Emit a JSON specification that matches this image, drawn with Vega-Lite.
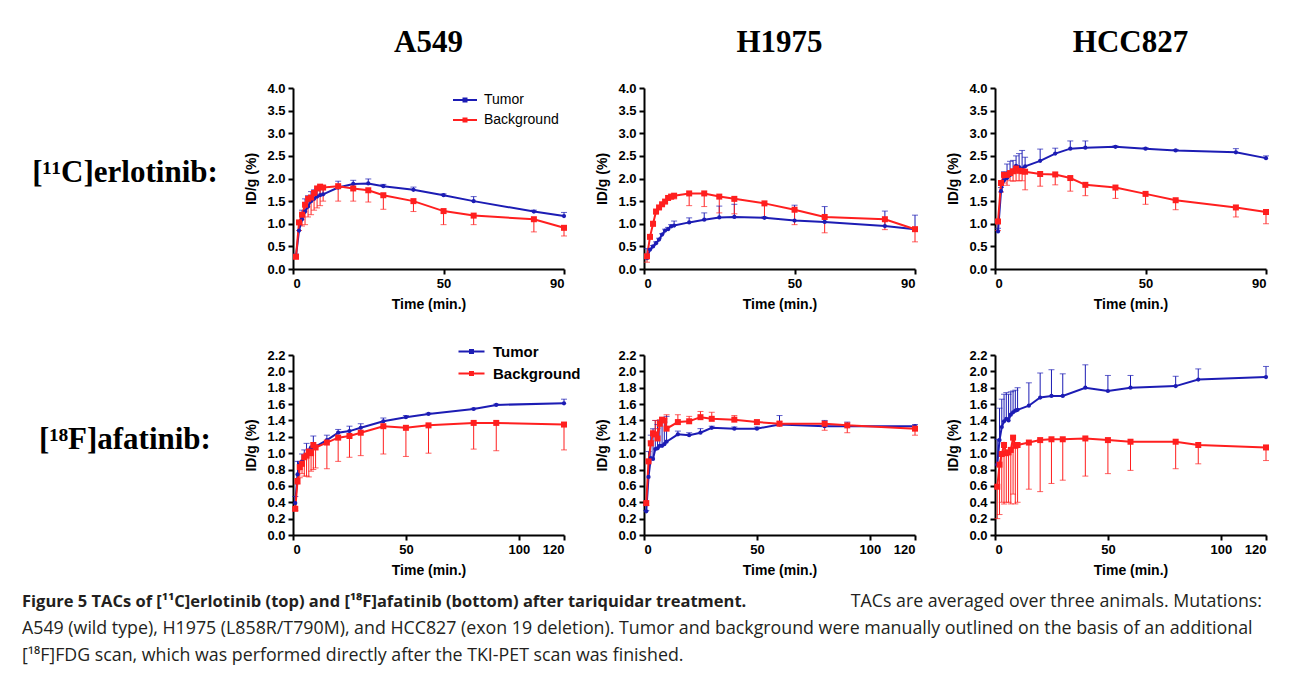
{
"$schema": "https://vega.github.io/schema/vega-lite/v6.json",
"padding": {"left": 22, "top": 27, "right": 5, "bottom": 5},
"background": "white",
"config": {
 "view": {"stroke": null},
 "font": "Liberation Sans",
 "axis": {"domainColor": "black", "domainWidth": 2, "tickColor": "black", "tickWidth": 2, "tickSize": 5, "labelFont": "Liberation Sans", "labelFontWeight": "bold", "labelFontSize": 13, "labelColor": "black", "labelPadding": 3, "labelOverlap": false, "titleFont": "Liberation Sans", "titleFontWeight": "bold", "titleFontSize": 14, "titleColor": "black", "grid": false},
 "axisY": {"titlePadding": 8},
 "axisX": {"titlePadding": 7},
 "title": {"font": "Liberation Serif", "fontSize": 31, "fontWeight": "bold", "color": "black", "offset": 23, "anchor": "middle"}
},
"datasets": {
 "erlA": [
  {"s":"Tumor","t":1,"v":0.29,"e":0.33},{"s":"Tumor","t":2,"v":0.85,"e":1.0},{"s":"Tumor","t":3,"v":1.1,"e":1.3},{"s":"Tumor","t":4,"v":1.27,"e":1.55},{"s":"Tumor","t":5,"v":1.38,"e":1.62},{"s":"Tumor","t":6,"v":1.5,"e":1.71},{"s":"Tumor","t":7,"v":1.55,"e":1.75},{"s":"Tumor","t":8,"v":1.6,"e":1.78},{"s":"Tumor","t":9,"v":1.63,"e":1.84},{"s":"Tumor","t":10,"v":1.65,"e":1.84},{"s":"Tumor","t":15,"v":1.8,"e":1.94},{"s":"Tumor","t":20,"v":1.88,"e":1.96},{"s":"Tumor","t":25,"v":1.89,"e":1.99},{"s":"Tumor","t":30,"v":1.83,"e":1.87},{"s":"Tumor","t":40,"v":1.75,"e":1.81},{"s":"Tumor","t":50,"v":1.63,"e":1.66},{"s":"Tumor","t":60,"v":1.5,"e":1.6},{"s":"Tumor","t":80,"v":1.27,"e":1.3},{"s":"Tumor","t":90,"v":1.17,"e":1.25},
  {"s":"Background","t":1,"v":0.27,"e":0.27},{"s":"Background","t":2,"v":1.03,"e":0.85},{"s":"Background","t":3,"v":1.2,"e":0.95},{"s":"Background","t":4,"v":1.42,"e":0.98},{"s":"Background","t":5,"v":1.55,"e":1.15},{"s":"Background","t":6,"v":1.58,"e":1.2},{"s":"Background","t":7,"v":1.68,"e":1.3},{"s":"Background","t":8,"v":1.78,"e":1.35},{"s":"Background","t":9,"v":1.82,"e":1.4},{"s":"Background","t":10,"v":1.8,"e":1.5},{"s":"Background","t":15,"v":1.83,"e":1.5},{"s":"Background","t":20,"v":1.78,"e":1.5},{"s":"Background","t":25,"v":1.74,"e":1.48},{"s":"Background","t":30,"v":1.63,"e":1.32},{"s":"Background","t":40,"v":1.5,"e":1.27},{"s":"Background","t":50,"v":1.28,"e":0.98},{"s":"Background","t":60,"v":1.18,"e":0.98},{"s":"Background","t":80,"v":1.1,"e":0.82},{"s":"Background","t":90,"v":0.91,"e":0.73}
 ],
 "erlH": [
  {"s":"Tumor","t":1,"v":0.24,"e":0.45},{"s":"Tumor","t":2,"v":0.43,"e":0.45},{"s":"Tumor","t":3,"v":0.5,"e":0.52},{"s":"Tumor","t":4,"v":0.57,"e":0.6},{"s":"Tumor","t":5,"v":0.65,"e":0.68},{"s":"Tumor","t":6,"v":0.76,"e":0.78},{"s":"Tumor","t":7,"v":0.85,"e":0.88},{"s":"Tumor","t":8,"v":0.88,"e":0.92},{"s":"Tumor","t":9,"v":0.94,"e":0.98},{"s":"Tumor","t":10,"v":0.96,"e":1.06},{"s":"Tumor","t":15,"v":1.03,"e":1.13},{"s":"Tumor","t":20,"v":1.09,"e":1.24},{"s":"Tumor","t":25,"v":1.14,"e":1.39},{"s":"Tumor","t":30,"v":1.15,"e":1.43},{"s":"Tumor","t":40,"v":1.13,"e":1.15},{"s":"Tumor","t":50,"v":1.07,"e":1.41},{"s":"Tumor","t":60,"v":1.04,"e":1.38},{"s":"Tumor","t":80,"v":0.95,"e":1.28},{"s":"Tumor","t":90,"v":0.88,"e":1.19},
  {"s":"Background","t":1,"v":0.28,"e":0.15},{"s":"Background","t":2,"v":0.71,"e":0.68},{"s":"Background","t":3,"v":1.0,"e":0.95},{"s":"Background","t":4,"v":1.27,"e":1.22},{"s":"Background","t":5,"v":1.36,"e":1.33},{"s":"Background","t":6,"v":1.43,"e":1.4},{"s":"Background","t":7,"v":1.49,"e":1.46},{"s":"Background","t":8,"v":1.57,"e":1.54},{"s":"Background","t":9,"v":1.6,"e":1.55},{"s":"Background","t":10,"v":1.62,"e":1.55},{"s":"Background","t":15,"v":1.67,"e":1.4},{"s":"Background","t":20,"v":1.67,"e":1.38},{"s":"Background","t":25,"v":1.6,"e":1.24},{"s":"Background","t":30,"v":1.55,"e":1.22},{"s":"Background","t":40,"v":1.45,"e":1.12},{"s":"Background","t":50,"v":1.31,"e":0.98},{"s":"Background","t":60,"v":1.15,"e":0.8},{"s":"Background","t":80,"v":1.1,"e":0.87},{"s":"Background","t":90,"v":0.88,"e":0.6}
 ],
 "erlC": [
  {"s":"Tumor","t":1,"v":0.83,"e":0.9},{"s":"Tumor","t":2,"v":1.72,"e":1.8},{"s":"Tumor","t":3,"v":1.96,"e":2.15},{"s":"Tumor","t":4,"v":2.01,"e":2.32},{"s":"Tumor","t":5,"v":2.08,"e":2.38},{"s":"Tumor","t":6,"v":2.17,"e":2.4},{"s":"Tumor","t":7,"v":2.28,"e":2.5},{"s":"Tumor","t":8,"v":2.25,"e":2.55},{"s":"Tumor","t":9,"v":2.22,"e":2.62},{"s":"Tumor","t":10,"v":2.27,"e":2.47},{"s":"Tumor","t":15,"v":2.39,"e":2.65},{"s":"Tumor","t":20,"v":2.55,"e":2.67},{"s":"Tumor","t":25,"v":2.66,"e":2.83},{"s":"Tumor","t":30,"v":2.68,"e":2.83},{"s":"Tumor","t":40,"v":2.7,"e":2.72},{"s":"Tumor","t":50,"v":2.66,"e":2.68},{"s":"Tumor","t":60,"v":2.62,"e":2.64},{"s":"Tumor","t":80,"v":2.58,"e":2.66},{"s":"Tumor","t":90,"v":2.45,"e":2.5},
  {"s":"Background","t":1,"v":1.05,"e":0.85},{"s":"Background","t":2,"v":1.9,"e":1.7},{"s":"Background","t":3,"v":2.08,"e":1.9},{"s":"Background","t":4,"v":2.08,"e":1.85},{"s":"Background","t":5,"v":2.12,"e":1.95},{"s":"Background","t":6,"v":2.16,"e":1.94},{"s":"Background","t":7,"v":2.22,"e":1.95},{"s":"Background","t":8,"v":2.17,"e":1.95},{"s":"Background","t":9,"v":2.16,"e":1.95},{"s":"Background","t":10,"v":2.15,"e":1.75},{"s":"Background","t":15,"v":2.1,"e":1.83},{"s":"Background","t":20,"v":2.09,"e":1.86},{"s":"Background","t":25,"v":2.01,"e":1.72},{"s":"Background","t":30,"v":1.86,"e":1.62},{"s":"Background","t":40,"v":1.8,"e":1.56},{"s":"Background","t":50,"v":1.66,"e":1.43},{"s":"Background","t":60,"v":1.52,"e":1.31},{"s":"Background","t":80,"v":1.36,"e":1.15},{"s":"Background","t":90,"v":1.26,"e":1.0}
 ],
 "afaA": [
  {"s":"Tumor","t":1,"v":0.39,"e":0.47},{"s":"Tumor","t":2,"v":0.74,"e":0.9},{"s":"Tumor","t":3,"v":0.87,"e":0.9},{"s":"Tumor","t":4,"v":0.9,"e":0.99},{"s":"Tumor","t":5,"v":0.94,"e":1.04},{"s":"Tumor","t":6,"v":0.97,"e":1.12},{"s":"Tumor","t":7,"v":1.02,"e":1.05},{"s":"Tumor","t":8,"v":1.07,"e":1.06},{"s":"Tumor","t":9,"v":1.09,"e":1.21},{"s":"Tumor","t":10,"v":1.08,"e":1.1},{"s":"Tumor","t":15,"v":1.16,"e":1.22},{"s":"Tumor","t":20,"v":1.25,"e":1.29},{"s":"Tumor","t":25,"v":1.27,"e":1.33},{"s":"Tumor","t":30,"v":1.31,"e":1.36},{"s":"Tumor","t":40,"v":1.39,"e":1.43},{"s":"Tumor","t":50,"v":1.44,"e":1.46},{"s":"Tumor","t":60,"v":1.48,"e":1.49},{"s":"Tumor","t":80,"v":1.54,"e":1.55},{"s":"Tumor","t":90,"v":1.59,"e":1.6},{"s":"Tumor","t":120,"v":1.61,"e":1.66},
  {"s":"Background","t":1,"v":0.32,"e":0.3},{"s":"Background","t":2,"v":0.66,"e":0.62},{"s":"Background","t":3,"v":0.83,"e":0.7},{"s":"Background","t":4,"v":0.87,"e":0.75},{"s":"Background","t":5,"v":0.95,"e":0.72},{"s":"Background","t":6,"v":0.97,"e":0.72},{"s":"Background","t":7,"v":1.02,"e":0.71},{"s":"Background","t":8,"v":1.0,"e":0.78},{"s":"Background","t":9,"v":1.1,"e":0.8},{"s":"Background","t":10,"v":1.07,"e":0.82},{"s":"Background","t":15,"v":1.13,"e":0.81},{"s":"Background","t":20,"v":1.19,"e":0.9},{"s":"Background","t":25,"v":1.21,"e":0.95},{"s":"Background","t":30,"v":1.25,"e":0.97},{"s":"Background","t":40,"v":1.33,"e":0.99},{"s":"Background","t":50,"v":1.31,"e":0.96},{"s":"Background","t":60,"v":1.34,"e":1.0},{"s":"Background","t":80,"v":1.37,"e":1.05},{"s":"Background","t":90,"v":1.37,"e":1.03},{"s":"Background","t":120,"v":1.35,"e":1.04}
 ],
 "afaH": [
  {"s":"Tumor","t":1,"v":0.29,"e":0.3},{"s":"Tumor","t":2,"v":0.71,"e":1.02},{"s":"Tumor","t":3,"v":0.94,"e":1.22},{"s":"Tumor","t":4,"v":0.93,"e":1.3},{"s":"Tumor","t":5,"v":1.05,"e":1.4},{"s":"Tumor","t":6,"v":1.06,"e":1.35},{"s":"Tumor","t":7,"v":1.09,"e":1.4},{"s":"Tumor","t":8,"v":1.09,"e":1.38},{"s":"Tumor","t":9,"v":1.11,"e":1.38},{"s":"Tumor","t":10,"v":1.14,"e":1.45},{"s":"Tumor","t":15,"v":1.23,"e":1.27},{"s":"Tumor","t":20,"v":1.22,"e":1.25},{"s":"Tumor","t":25,"v":1.25,"e":1.3},{"s":"Tumor","t":30,"v":1.31,"e":1.33},{"s":"Tumor","t":40,"v":1.3,"e":1.32},{"s":"Tumor","t":50,"v":1.3,"e":1.32},{"s":"Tumor","t":60,"v":1.35,"e":1.46},{"s":"Tumor","t":80,"v":1.33,"e":1.4},{"s":"Tumor","t":90,"v":1.33,"e":1.38},{"s":"Tumor","t":120,"v":1.33,"e":1.35},
  {"s":"Background","t":1,"v":0.39,"e":0.36},{"s":"Background","t":2,"v":0.9,"e":0.92},{"s":"Background","t":3,"v":1.12,"e":1.15},{"s":"Background","t":4,"v":1.24,"e":1.28},{"s":"Background","t":5,"v":1.23,"e":1.4},{"s":"Background","t":6,"v":1.18,"e":1.3},{"s":"Background","t":7,"v":1.36,"e":1.41},{"s":"Background","t":8,"v":1.41,"e":1.43},{"s":"Background","t":9,"v":1.4,"e":1.42},{"s":"Background","t":10,"v":1.3,"e":1.47},{"s":"Background","t":15,"v":1.38,"e":1.47},{"s":"Background","t":20,"v":1.39,"e":1.45},{"s":"Background","t":25,"v":1.44,"e":1.51},{"s":"Background","t":30,"v":1.42,"e":1.5},{"s":"Background","t":40,"v":1.41,"e":1.46},{"s":"Background","t":50,"v":1.38,"e":1.4},{"s":"Background","t":60,"v":1.36,"e":1.39},{"s":"Background","t":80,"v":1.36,"e":1.28},{"s":"Background","t":90,"v":1.34,"e":1.25},{"s":"Background","t":120,"v":1.3,"e":1.22}
 ],
 "afaC": [
  {"s":"Tumor","t":1,"v":0.86,"e":1.17},{"s":"Tumor","t":2,"v":1.16,"e":1.55},{"s":"Tumor","t":3,"v":1.32,"e":1.66},{"s":"Tumor","t":4,"v":1.39,"e":1.72},{"s":"Tumor","t":5,"v":1.42,"e":1.74},{"s":"Tumor","t":6,"v":1.4,"e":1.72},{"s":"Tumor","t":7,"v":1.47,"e":1.75},{"s":"Tumor","t":8,"v":1.5,"e":1.76},{"s":"Tumor","t":9,"v":1.52,"e":1.77},{"s":"Tumor","t":10,"v":1.53,"e":1.8},{"s":"Tumor","t":15,"v":1.58,"e":1.86},{"s":"Tumor","t":20,"v":1.68,"e":1.98},{"s":"Tumor","t":25,"v":1.7,"e":2.02},{"s":"Tumor","t":30,"v":1.7,"e":1.97},{"s":"Tumor","t":40,"v":1.8,"e":2.08},{"s":"Tumor","t":50,"v":1.76,"e":1.95},{"s":"Tumor","t":60,"v":1.8,"e":1.95},{"s":"Tumor","t":80,"v":1.82,"e":1.94},{"s":"Tumor","t":90,"v":1.9,"e":2.03},{"s":"Tumor","t":120,"v":1.93,"e":2.06},
  {"s":"Background","t":1,"v":0.59,"e":0.2},{"s":"Background","t":2,"v":0.86,"e":0.25},{"s":"Background","t":3,"v":0.99,"e":0.4},{"s":"Background","t":4,"v":1.1,"e":0.38},{"s":"Background","t":5,"v":1.0,"e":0.4},{"s":"Background","t":6,"v":1.01,"e":0.4},{"s":"Background","t":7,"v":1.04,"e":0.38},{"s":"Background","t":8,"v":1.19,"e":0.5},{"s":"Background","t":9,"v":1.09,"e":0.38},{"s":"Background","t":10,"v":1.1,"e":0.4},{"s":"Background","t":15,"v":1.13,"e":0.56},{"s":"Background","t":20,"v":1.16,"e":0.53},{"s":"Background","t":25,"v":1.17,"e":0.63},{"s":"Background","t":30,"v":1.17,"e":0.67},{"s":"Background","t":40,"v":1.18,"e":0.72},{"s":"Background","t":50,"v":1.16,"e":0.75},{"s":"Background","t":60,"v":1.14,"e":0.79},{"s":"Background","t":80,"v":1.14,"e":0.81},{"s":"Background","t":90,"v":1.1,"e":0.87},{"s":"Background","t":120,"v":1.07,"e":0.91}
 ],
 "cap": [
  {"ln":"1","txt":"Figure 5 TACs of [¹¹C]erlotinib (top) and [¹⁸F]afatinib (bottom) after tariquidar treatment."},
  {"ln":"1r","txt":"TACs are averaged over three animals. Mutations:"},
  {"ln":"2","txt":"A549 (wild type), H1975 (L858R/T790M), and HCC827 (exon 19 deletion). Tumor and background were manually outlined on the basis of an additional"},
  {"ln":"3","txt":"[¹⁸F]FDG scan, which was performed directly after the TKI-PET scan was finished."}
 ]
},
"resolve": {"scale": {"color": "independent", "shape": "independent", "size": "independent"}, "legend": {"color": "independent", "shape": "independent", "size": "independent"}},
"spacing": 12,
"vconcat": [
 {
  "spacing": 33,
  "resolve": {"scale": {"color": "independent", "shape": "independent", "size": "independent"}, "legend": {"color": "independent", "shape": "independent", "size": "independent"}},
  "vconcat": [
   {
    "bounds": "flush",
    "spacing": 65,
    "resolve": {"scale": {"color": "independent", "shape": "independent", "size": "independent"}, "legend": {"color": "independent", "shape": "independent", "size": "independent"}},
    "hconcat": [
     {"width": 206, "height": 181, "data": {"values": [{"l": "[¹¹C]erlotinib:"}]}, "mark": {"type": "text", "font": "Liberation Serif", "fontSize": 31, "fontWeight": "bold", "color": "black", "baseline": "middle", "dy": -6}, "encoding": {"text": {"field": "l"}}},
     {
      "bounds": "flush",
      "spacing": 80,
      "resolve": {"scale": {"color": "independent", "shape": "independent", "size": "independent"}, "legend": {"color": "independent", "shape": "independent", "size": "independent"}},
      "hconcat": [
       {
        "width": 271, "height": 181, "title": "A549", "data": {"name": "erlA"},
        "encoding": {
         "x": {"field": "t", "type": "quantitative", "title": "Time (min.)", "scale": {"domain": [0, 90], "nice": false}, "axis": {"values": [0, 50, 90], "labelOverlap": false}},
         "y": {"field": "v", "type": "quantitative", "title": "ID/g (%)", "scale": {"domain": [0, 4], "nice": false}, "axis": {"values": [0, 0.5, 1, 1.5, 2, 2.5, 3, 3.5, 4], "format": ".1f", "labelOverlap": false}},
         "color": {"field": "s", "type": "nominal", "scale": {"domain": ["Tumor", "Background"], "range": ["#1c1cb4", "#ff1f1f"]},
           "legend": {"orient": "none", "legendX": 165, "legendY": 5, "title": null, "symbolType": "M-2.4,-0.2H2.4V0.2H-2.4Z M-0.5,-0.5H0.5V0.5H-0.5Z", "symbolSize": 100, "symbolStrokeWidth": 0, "symbolOpacity": 1, "labelFont": "Liberation Sans", "labelFontSize": 14, "labelColor": "black", "labelOffset": 12, "rowPadding": 6, "padding": 0}}
        },
        "layer": [
         {"mark": {"type": "rule", "strokeWidth": 1}, "encoding": {"y2": {"field": "e"}}},
         {"mark": {"type": "tick", "orient": "horizontal", "size": 6, "thickness": 1}, "encoding": {"y": {"field": "e", "type": "quantitative", "title": "ID/g (%)", "scale": {"domain": [0, 4], "nice": false}, "axis": {"values": [0, 0.5, 1, 1.5, 2, 2.5, 3, 3.5, 4], "format": ".1f", "labelOverlap": false}}}},
         {"mark": {"type": "line", "strokeWidth": 2}},
         {"transform": [{"filter": "datum.s === 'Tumor'"}], "mark": {"type": "point", "filled": true, "opacity": 1, "shape": "circle", "size": 18}},
         {"transform": [{"filter": "datum.s === 'Background'"}], "mark": {"type": "point", "filled": true, "opacity": 1, "shape": "square", "size": 36}}
        ]
       },
       {
        "width": 271, "height": 181, "title": "H1975", "data": {"name": "erlH"},
        "encoding": {
         "x": {"field": "t", "type": "quantitative", "title": "Time (min.)", "scale": {"domain": [0, 90], "nice": false}, "axis": {"values": [0, 50, 90], "labelOverlap": false}},
         "y": {"field": "v", "type": "quantitative", "title": "ID/g (%)", "scale": {"domain": [0, 4], "nice": false}, "axis": {"values": [0, 0.5, 1, 1.5, 2, 2.5, 3, 3.5, 4], "format": ".1f", "labelOverlap": false}},
         "color": {"field": "s", "type": "nominal", "scale": {"domain": ["Tumor", "Background"], "range": ["#1c1cb4", "#ff1f1f"]}, "legend": null}
        },
        "layer": [
         {"mark": {"type": "rule", "strokeWidth": 1}, "encoding": {"y2": {"field": "e"}}},
         {"mark": {"type": "tick", "orient": "horizontal", "size": 6, "thickness": 1}, "encoding": {"y": {"field": "e", "type": "quantitative", "title": "ID/g (%)", "scale": {"domain": [0, 4], "nice": false}, "axis": {"values": [0, 0.5, 1, 1.5, 2, 2.5, 3, 3.5, 4], "format": ".1f", "labelOverlap": false}}}},
         {"mark": {"type": "line", "strokeWidth": 2}},
         {"mark": {"type": "point", "filled": true, "opacity": 1}, "encoding": {"shape": {"field": "s", "type": "nominal", "scale": {"domain": ["Tumor", "Background"], "range": ["circle", "square"]}, "legend": null}, "size": {"field": "s", "type": "nominal", "scale": {"domain": ["Tumor", "Background"], "range": [18, 36]}, "legend": null}}}
        ]
       },
       {
        "width": 271, "height": 181, "title": "HCC827", "data": {"name": "erlC"},
        "encoding": {
         "x": {"field": "t", "type": "quantitative", "title": "Time (min.)", "scale": {"domain": [0, 90], "nice": false}, "axis": {"values": [0, 50, 90], "labelOverlap": false}},
         "y": {"field": "v", "type": "quantitative", "title": "ID/g (%)", "scale": {"domain": [0, 4], "nice": false}, "axis": {"values": [0, 0.5, 1, 1.5, 2, 2.5, 3, 3.5, 4], "format": ".1f", "labelOverlap": false}},
         "color": {"field": "s", "type": "nominal", "scale": {"domain": ["Tumor", "Background"], "range": ["#1c1cb4", "#ff1f1f"]}, "legend": null}
        },
        "layer": [
         {"mark": {"type": "rule", "strokeWidth": 1}, "encoding": {"y2": {"field": "e"}}},
         {"mark": {"type": "tick", "orient": "horizontal", "size": 6, "thickness": 1}, "encoding": {"y": {"field": "e", "type": "quantitative", "title": "ID/g (%)", "scale": {"domain": [0, 4], "nice": false}, "axis": {"values": [0, 0.5, 1, 1.5, 2, 2.5, 3, 3.5, 4], "format": ".1f", "labelOverlap": false}}}},
         {"mark": {"type": "line", "strokeWidth": 2}},
         {"mark": {"type": "point", "filled": true, "opacity": 1}, "encoding": {"shape": {"field": "s", "type": "nominal", "scale": {"domain": ["Tumor", "Background"], "range": ["circle", "square"]}, "legend": null}, "size": {"field": "s", "type": "nominal", "scale": {"domain": ["Tumor", "Background"], "range": [18, 36]}, "legend": null}}}
        ]
       }
      ]
     }
    ]
   },
   {
    "bounds": "flush",
    "spacing": 65,
    "resolve": {"scale": {"color": "independent", "shape": "independent", "size": "independent"}, "legend": {"color": "independent", "shape": "independent", "size": "independent"}},
    "hconcat": [
     {"width": 206, "height": 180, "data": {"values": [{"l": "[¹⁸F]afatinib:"}]}, "mark": {"type": "text", "font": "Liberation Serif", "fontSize": 31, "fontWeight": "bold", "color": "black", "baseline": "middle", "dy": -5}, "encoding": {"text": {"field": "l"}}},
     {
      "bounds": "flush",
      "spacing": 80,
      "resolve": {"scale": {"color": "independent", "shape": "independent", "size": "independent"}, "legend": {"color": "independent", "shape": "independent", "size": "independent"}},
      "hconcat": [
       {
        "width": 271, "height": 180, "data": {"name": "afaA"},
        "encoding": {
         "x": {"field": "t", "type": "quantitative", "title": "Time (min.)", "scale": {"domain": [0, 120], "nice": false}, "axis": {"values": [0, 50, 100, 120], "labelOverlap": false}},
         "y": {"field": "v", "type": "quantitative", "title": "ID/g (%)", "scale": {"domain": [0, 2.2], "nice": false}, "axis": {"values": [0, 0.2, 0.4, 0.6, 0.8, 1, 1.2, 1.4, 1.6, 1.8, 2, 2.2], "format": ".1f", "labelOverlap": false}},
         "color": {"field": "s", "type": "nominal", "scale": {"domain": ["Tumor", "Background"], "range": ["#1c1cb4", "#ff1f1f"]},
           "legend": {"orient": "none", "legendX": 171, "legendY": -11, "title": null, "symbolType": "M-2.6,-0.2H2.6V0.2H-2.6Z M-0.5,-0.5H0.5V0.5H-0.5Z", "symbolSize": 100, "symbolStrokeWidth": 0, "symbolOpacity": 1, "labelFont": "Liberation Sans", "labelFontSize": 15, "labelFontWeight": "bold", "labelColor": "black", "labelOffset": 14, "rowPadding": 6, "padding": 0}}
        },
        "layer": [
         {"mark": {"type": "rule", "strokeWidth": 1}, "encoding": {"y2": {"field": "e"}}},
         {"mark": {"type": "tick", "orient": "horizontal", "size": 6, "thickness": 1}, "encoding": {"y": {"field": "e", "type": "quantitative", "title": "ID/g (%)", "scale": {"domain": [0, 2.2], "nice": false}, "axis": {"values": [0, 0.2, 0.4, 0.6, 0.8, 1, 1.2, 1.4, 1.6, 1.8, 2, 2.2], "format": ".1f", "labelOverlap": false}}}},
         {"mark": {"type": "line", "strokeWidth": 2}},
         {"transform": [{"filter": "datum.s === 'Tumor'"}], "mark": {"type": "point", "filled": true, "opacity": 1, "shape": "circle", "size": 18}},
         {"transform": [{"filter": "datum.s === 'Background'"}], "mark": {"type": "point", "filled": true, "opacity": 1, "shape": "square", "size": 36}}
        ]
       },
       {
        "width": 271, "height": 180, "data": {"name": "afaH"},
        "encoding": {
         "x": {"field": "t", "type": "quantitative", "title": "Time (min.)", "scale": {"domain": [0, 120], "nice": false}, "axis": {"values": [0, 50, 100, 120], "labelOverlap": false}},
         "y": {"field": "v", "type": "quantitative", "title": "ID/g (%)", "scale": {"domain": [0, 2.2], "nice": false}, "axis": {"values": [0, 0.2, 0.4, 0.6, 0.8, 1, 1.2, 1.4, 1.6, 1.8, 2, 2.2], "format": ".1f", "labelOverlap": false}},
         "color": {"field": "s", "type": "nominal", "scale": {"domain": ["Tumor", "Background"], "range": ["#1c1cb4", "#ff1f1f"]}, "legend": null}
        },
        "layer": [
         {"mark": {"type": "rule", "strokeWidth": 1}, "encoding": {"y2": {"field": "e"}}},
         {"mark": {"type": "tick", "orient": "horizontal", "size": 6, "thickness": 1}, "encoding": {"y": {"field": "e", "type": "quantitative", "title": "ID/g (%)", "scale": {"domain": [0, 2.2], "nice": false}, "axis": {"values": [0, 0.2, 0.4, 0.6, 0.8, 1, 1.2, 1.4, 1.6, 1.8, 2, 2.2], "format": ".1f", "labelOverlap": false}}}},
         {"mark": {"type": "line", "strokeWidth": 2}},
         {"mark": {"type": "point", "filled": true, "opacity": 1}, "encoding": {"shape": {"field": "s", "type": "nominal", "scale": {"domain": ["Tumor", "Background"], "range": ["circle", "square"]}, "legend": null}, "size": {"field": "s", "type": "nominal", "scale": {"domain": ["Tumor", "Background"], "range": [18, 36]}, "legend": null}}}
        ]
       },
       {
        "width": 271, "height": 180, "data": {"name": "afaC"},
        "encoding": {
         "x": {"field": "t", "type": "quantitative", "title": "Time (min.)", "scale": {"domain": [0, 120], "nice": false}, "axis": {"values": [0, 50, 100, 120], "labelOverlap": false}},
         "y": {"field": "v", "type": "quantitative", "title": "ID/g (%)", "scale": {"domain": [0, 2.2], "nice": false}, "axis": {"values": [0, 0.2, 0.4, 0.6, 0.8, 1, 1.2, 1.4, 1.6, 1.8, 2, 2.2], "format": ".1f", "labelOverlap": false}},
         "color": {"field": "s", "type": "nominal", "scale": {"domain": ["Tumor", "Background"], "range": ["#1c1cb4", "#ff1f1f"]}, "legend": null}
        },
        "layer": [
         {"mark": {"type": "rule", "strokeWidth": 1}, "encoding": {"y2": {"field": "e"}}},
         {"mark": {"type": "tick", "orient": "horizontal", "size": 6, "thickness": 1}, "encoding": {"y": {"field": "e", "type": "quantitative", "title": "ID/g (%)", "scale": {"domain": [0, 2.2], "nice": false}, "axis": {"values": [0, 0.2, 0.4, 0.6, 0.8, 1, 1.2, 1.4, 1.6, 1.8, 2, 2.2], "format": ".1f", "labelOverlap": false}}}},
         {"mark": {"type": "line", "strokeWidth": 2}},
         {"mark": {"type": "point", "filled": true, "opacity": 1}, "encoding": {"shape": {"field": "s", "type": "nominal", "scale": {"domain": ["Tumor", "Background"], "range": ["circle", "square"]}, "legend": null}, "size": {"field": "s", "type": "nominal", "scale": {"domain": ["Tumor", "Background"], "range": [18, 36]}, "legend": null}}}
        ]
       }
      ]
     }
    ]
   }
  ]
 },
 {
  "width": 1240, "height": 80,
  "data": {"name": "cap"},
  "encoding": {
   "y": {"field": "ln", "type": "ordinal", "axis": null, "scale": {"domain": ["1", "2", "3"], "padding": 0.5}},
   "x": {"value": 0},
   "text": {"field": "txt"}
  },
  "layer": [
   {"transform": [{"filter": "datum.ln === '1'"}], "mark": {"type": "text", "align": "left", "baseline": "middle", "font": "Open Sans", "fontSize": 16.5, "fontWeight": "bold", "color": "#231f20"}},
   {"transform": [{"filter": "datum.ln === '1r'"}], "mark": {"type": "text", "align": "right", "baseline": "middle", "font": "Open Sans", "fontSize": 17.8, "color": "#231f20"}, "encoding": {"x": {"value": 1240}, "y": {"value": 13.3}}},
   {"transform": [{"filter": "datum.ln === '2' || datum.ln === '3'"}], "mark": {"type": "text", "align": "left", "baseline": "middle", "font": "Open Sans", "fontSize": 17.8, "color": "#231f20"}}
  ]
 }
]
}
